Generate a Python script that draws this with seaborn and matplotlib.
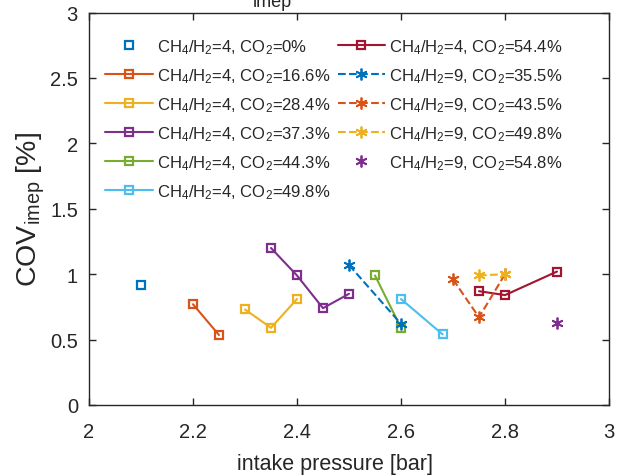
import matplotlib
matplotlib.use("Agg")
import matplotlib.pyplot as plt
import seaborn as sns
import pandas as pd

# CH4/H2 = 4 series (square markers, solid lines)
p_co2_0 = [2.10]
cov_co2_0 = [0.92]
p_co2_166 = [2.20, 2.25]
cov_co2_166 = [0.77, 0.535]
p_co2_284 = [2.30, 2.35, 2.40]
cov_co2_284 = [0.73, 0.59, 0.81]
p_co2_373 = [2.35, 2.40, 2.45, 2.50]
cov_co2_373 = [1.20, 0.99, 0.74, 0.85]
p_co2_443 = [2.55, 2.60]
cov_co2_443 = [0.99, 0.59]
p_co2_498 = [2.60, 2.68]
cov_co2_498 = [0.81, 0.54]
p_co2_544 = [2.75, 2.80, 2.90]
cov_co2_544 = [0.87, 0.84, 1.02]

# CH4/H2 = 9 series (asterisk markers, dashed lines)
p9_co2_355 = [2.50, 2.60]
cov9_co2_355 = [1.07, 0.62]
p9_co2_435 = [2.70, 2.75, 2.80]
cov9_co2_435 = [0.96, 0.67, 1.00]
p9_co2_498 = [2.75, 2.80]
cov9_co2_498 = [0.99, 1.00]
p9_co2_548 = [2.90]
cov9_co2_548 = [0.63]

x_ticks = [2, 2.2, 2.4, 2.6, 2.8, 3]
y_ticks = [0, 0.5, 1, 1.5, 2, 2.5, 3]
x_tick_labels = ["2", "2.2", "2.4", "2.6", "2.8", "3"]
y_tick_labels = ["0", "0.5", "1", "1.5", "2", "2.5", "3"]

c_blue, c_orange, c_yellow = "#0072BD", "#D95319", "#EDB120"
c_purple, c_green, c_cyan, c_red = "#7E2F8E", "#77AC30", "#4DBEEE", "#A2142F"
ink = "#262626"

def lab(r, co2):
    return r"CH$_4$/H$_2$=" + r + r", CO$_2$=" + co2 + "%"

series = [
    (p_co2_0, cov_co2_0, lab("4", "0"), c_blue, "s", "none"),
    (p_co2_166, cov_co2_166, lab("4", "16.6"), c_orange, "s", "-"),
    (p_co2_284, cov_co2_284, lab("4", "28.4"), c_yellow, "s", "-"),
    (p_co2_373, cov_co2_373, lab("4", "37.3"), c_purple, "s", "-"),
    (p_co2_443, cov_co2_443, lab("4", "44.3"), c_green, "s", "-"),
    (p_co2_498, cov_co2_498, lab("4", "49.8"), c_cyan, "s", "-"),
    (p_co2_544, cov_co2_544, lab("4", "54.4"), c_red, "s", "-"),
    (p9_co2_355, cov9_co2_355, lab("9", "35.5"), c_blue, (6, 2, 0), "--"),
    (p9_co2_435, cov9_co2_435, lab("9", "43.5"), c_orange, (6, 2, 0), "--"),
    (p9_co2_498, cov9_co2_498, lab("9", "49.8"), c_yellow, (6, 2, 0), "--"),
    (p9_co2_548, cov9_co2_548, lab("9", "54.8"), c_purple, (6, 2, 0), "none"),
]

sns.set_style("ticks")
plt.rcParams["font.family"] = ["Liberation Sans", "DejaVu Sans"]
plt.rcParams["mathtext.default"] = "regular"
plt.rcParams["mathtext.fontset"] = "custom"
plt.rcParams["mathtext.rm"] = "Liberation Sans"
plt.rcParams["mathtext.it"] = "Liberation Sans"

fig = plt.figure(figsize=(6.19, 4.77), dpi=100)
ax = fig.add_axes([89 / 619, 1 - 406 / 477, 520 / 619, 392.5 / 477])

for xs, ys, name, col, mk, ls in series:
    df = pd.DataFrame({"p": xs, "cov": ys})
    star = not isinstance(mk, str)
    sns.lineplot(
        data=df, x="p", y="cov", ax=ax, sort=False, label=name,
        color=col, marker=mk, linestyle=ls if ls != "none" else "None",
        linewidth=1.5,
        markersize=8.5 if star else 5.5,
        markerfacecolor="none" if not star else col,
        markeredgecolor=col, markeredgewidth=1.6 if not star else 1.3,
        dashes=(4, 3) if ls == "--" else "",
    )

ax.set_xlim(2, 3)
ax.set_ylim(0, 3)
ax.set_xticks(x_ticks)
ax.set_xticklabels(x_tick_labels)
ax.set_yticks(y_ticks)
ax.set_yticklabels(y_tick_labels)
ax.tick_params(direction="in", length=5, width=1, top=True, right=True,
               labelsize=14.5, colors=ink)
ax.tick_params(axis="x", pad=12)
ax.tick_params(axis="y", pad=8)
for s in ax.spines.values():
    s.set_visible(True)
    s.set_linewidth(1.0)
    s.set_color(ink)

ax.set_xlabel("intake pressure [bar]", fontsize=15.5, color=ink)
ax.xaxis.set_label_coords((335 - 89) / 520, -0.122)
ax.set_ylabel(r"COV$_{imep}$ [%]", fontsize=20.5, color=ink, labelpad=2)

leg = ax.legend(loc="upper left", ncol=2, frameon=False, fontsize=12,
                handlelength=2.85, handletextpad=0.25, columnspacing=0.45,
                labelspacing=0.62, borderaxespad=0.0,
                bbox_to_anchor=(0.018, 0.955))
for t in leg.get_texts():
    t.set_color(ink)

# subscript of the heading, clipped at the top edge of the figure
fig.text(272 / 619, 1 - 7 / 477, "imep", fontsize=13, color=ink,
         ha="center", va="baseline")

fig.savefig("out.png", dpi=100)
